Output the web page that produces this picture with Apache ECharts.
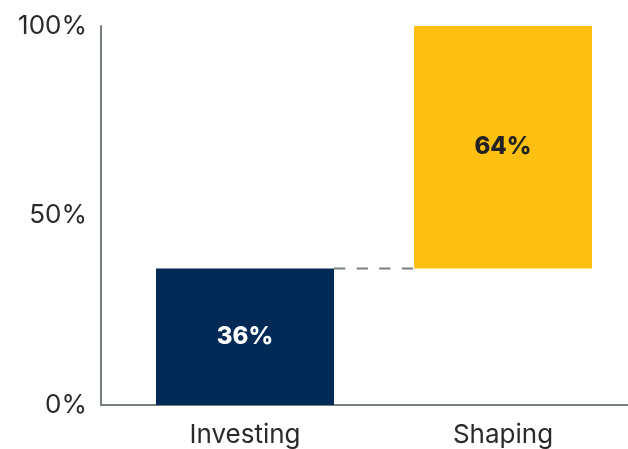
<!DOCTYPE html>
<html><head><meta charset="utf-8">
<script src="https://cdn.jsdelivr.net/npm/echarts@6/dist/echarts.min.js"></script>
<style>html,body{margin:0;padding:0;background:#fff}#c{width:628px;height:449px}</style>
</head><body><div id="c"></div>
<script>
var categories = ['Investing', 'Shaping'];
var baseValues = [0, 36];
var barValues = [36, 64];
var connectorValues = [36];
var yTicks = [0, 50, 100];
var barColors = ['#012a57', '#fdc010'];
var labelColors = ['#ffffff', '#222222'];

var chart = echarts.init(document.getElementById('c'));
var font = 'Inter, "Open Sans", sans-serif';
var axisColor = '#78807f';
var BAR_W = 178;
chart.setOption({
  animation: false,
  grid: [
    {left: 101, right: 0, top: 26, bottom: 44, outerBoundsMode: 'none', containLabel: false},
    {left: 116, width: 516, top: 26, bottom: 44, outerBoundsMode: 'none', containLabel: false}
  ],
  xAxis: [
    {gridIndex: 0, type: 'value', min: 0, max: 1, axisLine: {show: true, lineStyle: {color: axisColor, width: 2}},
     axisTick: {show: false}, axisLabel: {show: false}, splitLine: {show: false}},
    {gridIndex: 1, type: 'category', data: categories, axisLine: {show: false}, axisTick: {show: false},
     axisLabel: {fontFamily: font, fontSize: 26, color: '#2a2a2a', margin: 17}}
  ],
  yAxis: [
    {gridIndex: 0, type: 'value', min: 0, max: 100, interval: 50,
     axisLine: {show: true, lineStyle: {color: axisColor, width: 2}}, axisTick: {show: false}, splitLine: {show: false},
     axisLabel: {fontFamily: font, fontSize: 26, color: '#2a2a2a', margin: 14,
       formatter: function(v){ return yTicks.indexOf(v) >= 0 ? v + '%' : ''; }}},
    {gridIndex: 1, type: 'value', min: 0, max: 100, show: false}
  ],
  series: [
    {type: 'custom', xAxisIndex: 1, yAxisIndex: 1, z: 1, silent: true,
     data: connectorValues.map(function(v, i){ return [i, v]; }),
     renderItem: function(params, api){
       var i = api.value(0), v = api.value(1);
       var p1 = api.coord([i, v]), p2 = api.coord([i + 1, v]);
       return {type: 'line',
         shape: {x1: p1[0] + BAR_W / 2, y1: p1[1], x2: p2[0] - BAR_W / 2, y2: p2[1]},
         style: {stroke: axisColor, lineWidth: 2, lineDash: [11.3, 11.3]}};
     }},
    {type: 'bar', xAxisIndex: 1, yAxisIndex: 1, stack: 'w', data: baseValues, barWidth: BAR_W, z: 2,
     itemStyle: {color: 'transparent'}, silent: true},
    {type: 'bar', xAxisIndex: 1, yAxisIndex: 1, stack: 'w', barWidth: BAR_W, z: 3,
     data: barValues.map(function(v, i){ return {value: v, itemStyle: {color: barColors[i]},
       label: {color: labelColors[i]}}; }),
     label: {show: true, position: 'inside', fontFamily: font, fontWeight: 800, fontSize: 24,
       formatter: function(p){ return p.value + '%'; }}}
  ]
});
</script></body></html>
